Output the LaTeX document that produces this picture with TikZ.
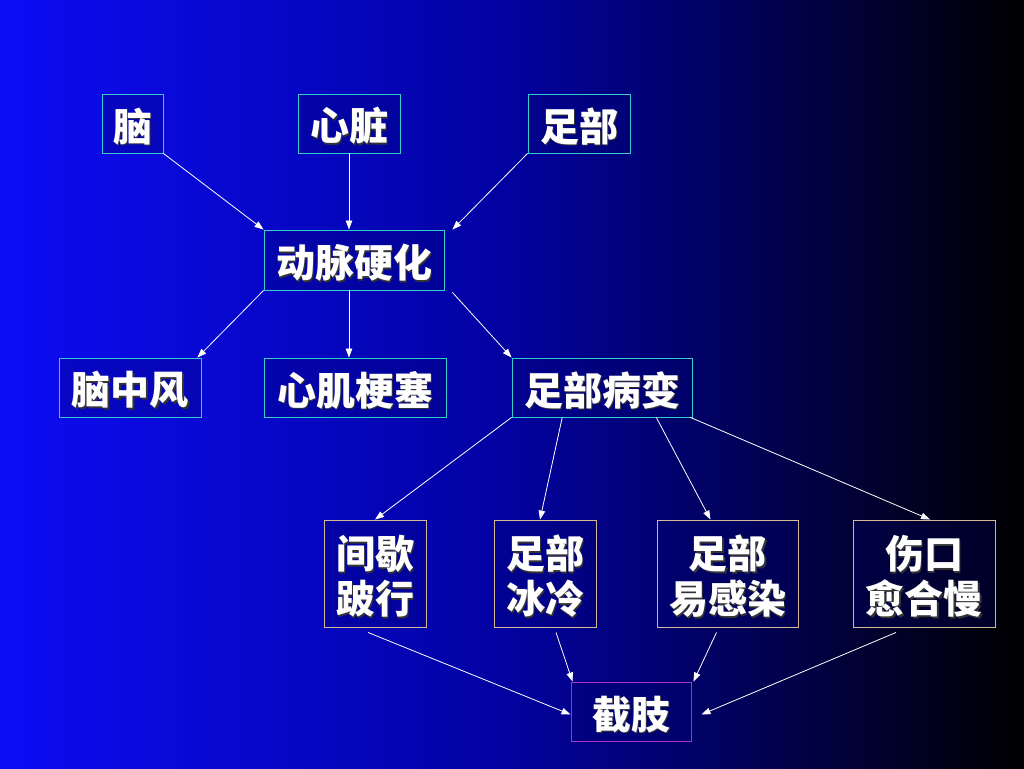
\documentclass[tikz,border=0pt]{standalone}
\usepackage{fontspec}
\newfontfamily\cjk{Noto Sans CJK SC}
\usetikzlibrary{arrows.meta,calc}
\definecolor{bgleft}{RGB}{12,12,245}
\definecolor{bgmid}{RGB}{2,2,160}
\definecolor{bxcyan}{RGB}{51,204,204}
\definecolor{bxtan}{RGB}{214,184,150}
\definecolor{bxpurple}{RGB}{160,50,200}
\definecolor{bxfill}{RGB}{0,0,110}
\newcommand\shtxt[1]{\leavevmode\raisebox{-3.5pt}[\height][\depth]{\rlap{\hspace{1.6pt}\raisebox{-1.6pt}{\textcolor{black!80}{#1}}}#1}}
\tikzset{
  box/.style={draw=bxcyan, line width=0.9pt, fill=bxfill, fill opacity=0.3, text opacity=1,
    text=white, inner sep=0pt, align=center,
    font=\cjk\bfseries\fontsize{39}{45}\selectfont},
  tanbox/.style={box, draw=bxtan},
  purbox/.style={box, draw=bxpurple},
  arr/.style={draw=white, line width=0.8pt, -{Triangle[length=9pt,width=6.5pt]}}
}
\begin{document}
\begin{tikzpicture}[x=1pt,y=-1pt]
\useasboundingbox (0,0) rectangle (1024,768);
\shade[left color=bgleft, right color=bgmid] (0,0) rectangle (512,768);
\shade[left color=bgmid, right color=black] (511.5,0) rectangle (1024,768);

\node[box, minimum width=61pt, minimum height=59pt] (nao) at (132.5,123.5) {\shtxt{脑}};
\node[box, minimum width=102pt, minimum height=59pt] (xz) at (349,123.5) {\shtxt{心脏}};
\node[box, minimum width=102pt, minimum height=59pt] (zb) at (579,123.5) {\shtxt{足部}};
\node[box, minimum width=180pt, minimum height=60pt] (dm) at (354,260) {\shtxt{动脉硬化}};
\node[box, minimum width=142pt, minimum height=59pt] (nzf) at (130,387.5) {\shtxt{脑中风}};
\node[box, minimum width=182pt, minimum height=59pt] (xj) at (355,387.5) {\shtxt{心肌梗塞}};
\node[box, minimum width=180pt, minimum height=59pt] (zbb) at (602,387.5) {\shtxt{足部病变}};
\node[tanbox, minimum width=102pt, minimum height=107pt] (jx) at (375,573.5) {\shtxt{间歇}\\\shtxt{跛行}};
\node[tanbox, minimum width=102pt, minimum height=107pt] (bl) at (545,573.5) {\shtxt{足部}\\\shtxt{冰冷}};
\node[tanbox, minimum width=141pt, minimum height=107pt] (yg) at (727.5,573.5) {\shtxt{足部}\\\shtxt{易感染}};
\node[tanbox, minimum width=142pt, minimum height=107pt] (sk) at (924,573.5) {\shtxt{伤口}\\\shtxt{愈合慢}};
\node[purbox, minimum width=120pt, minimum height=59pt] (jz) at (631,711.5) {\shtxt{截肢}};

\draw[arr] (nao.south east) -- (dm.north west);
\draw[arr] (xz.south) -- (xz.south |- dm.north);
\draw[arr] (zb.south west) -- ($(dm.north east)+(8,0)$);
\draw[arr] (dm.south west) -- ($(nzf.north east)+(-4,0)$);
\draw[arr] ($(dm.south)+(-5,0)$) -- ($(xj.north)+(-6,0)$);
\draw[arr] ($(dm.south east)+(8,2)$) -- (zbb.north west);
\draw[arr] (zbb.south west) -- (jx.north);
\draw[arr] ($(zbb.south west)!0.28!(zbb.south east)$) -- ($(bl.north)+(-5,0)$);
\draw[arr] ($(zbb.south west)!0.8!(zbb.south east)$) -- ($(yg.north)+(-17,0)$);
\draw[arr] ($(zbb.south east)+(-2,0)$) -- ($(sk.north)+(6,0)$);
\draw[arr] ($(jx.south)+(-7,5)$) -- ($(jz.west)+(0,3)$);
\draw[arr] ($(bl.south)+(11,5)$) -- ($(jz.north west)+(2,0)$);
\draw[arr] ($(yg.south)+(-11,5)$) -- ($(jz.north east)+(2,0)$);
\draw[arr] ($(sk.south)+(-28,5)$) -- ($(jz.east)+(10,3)$);
\end{tikzpicture}
\end{document}
